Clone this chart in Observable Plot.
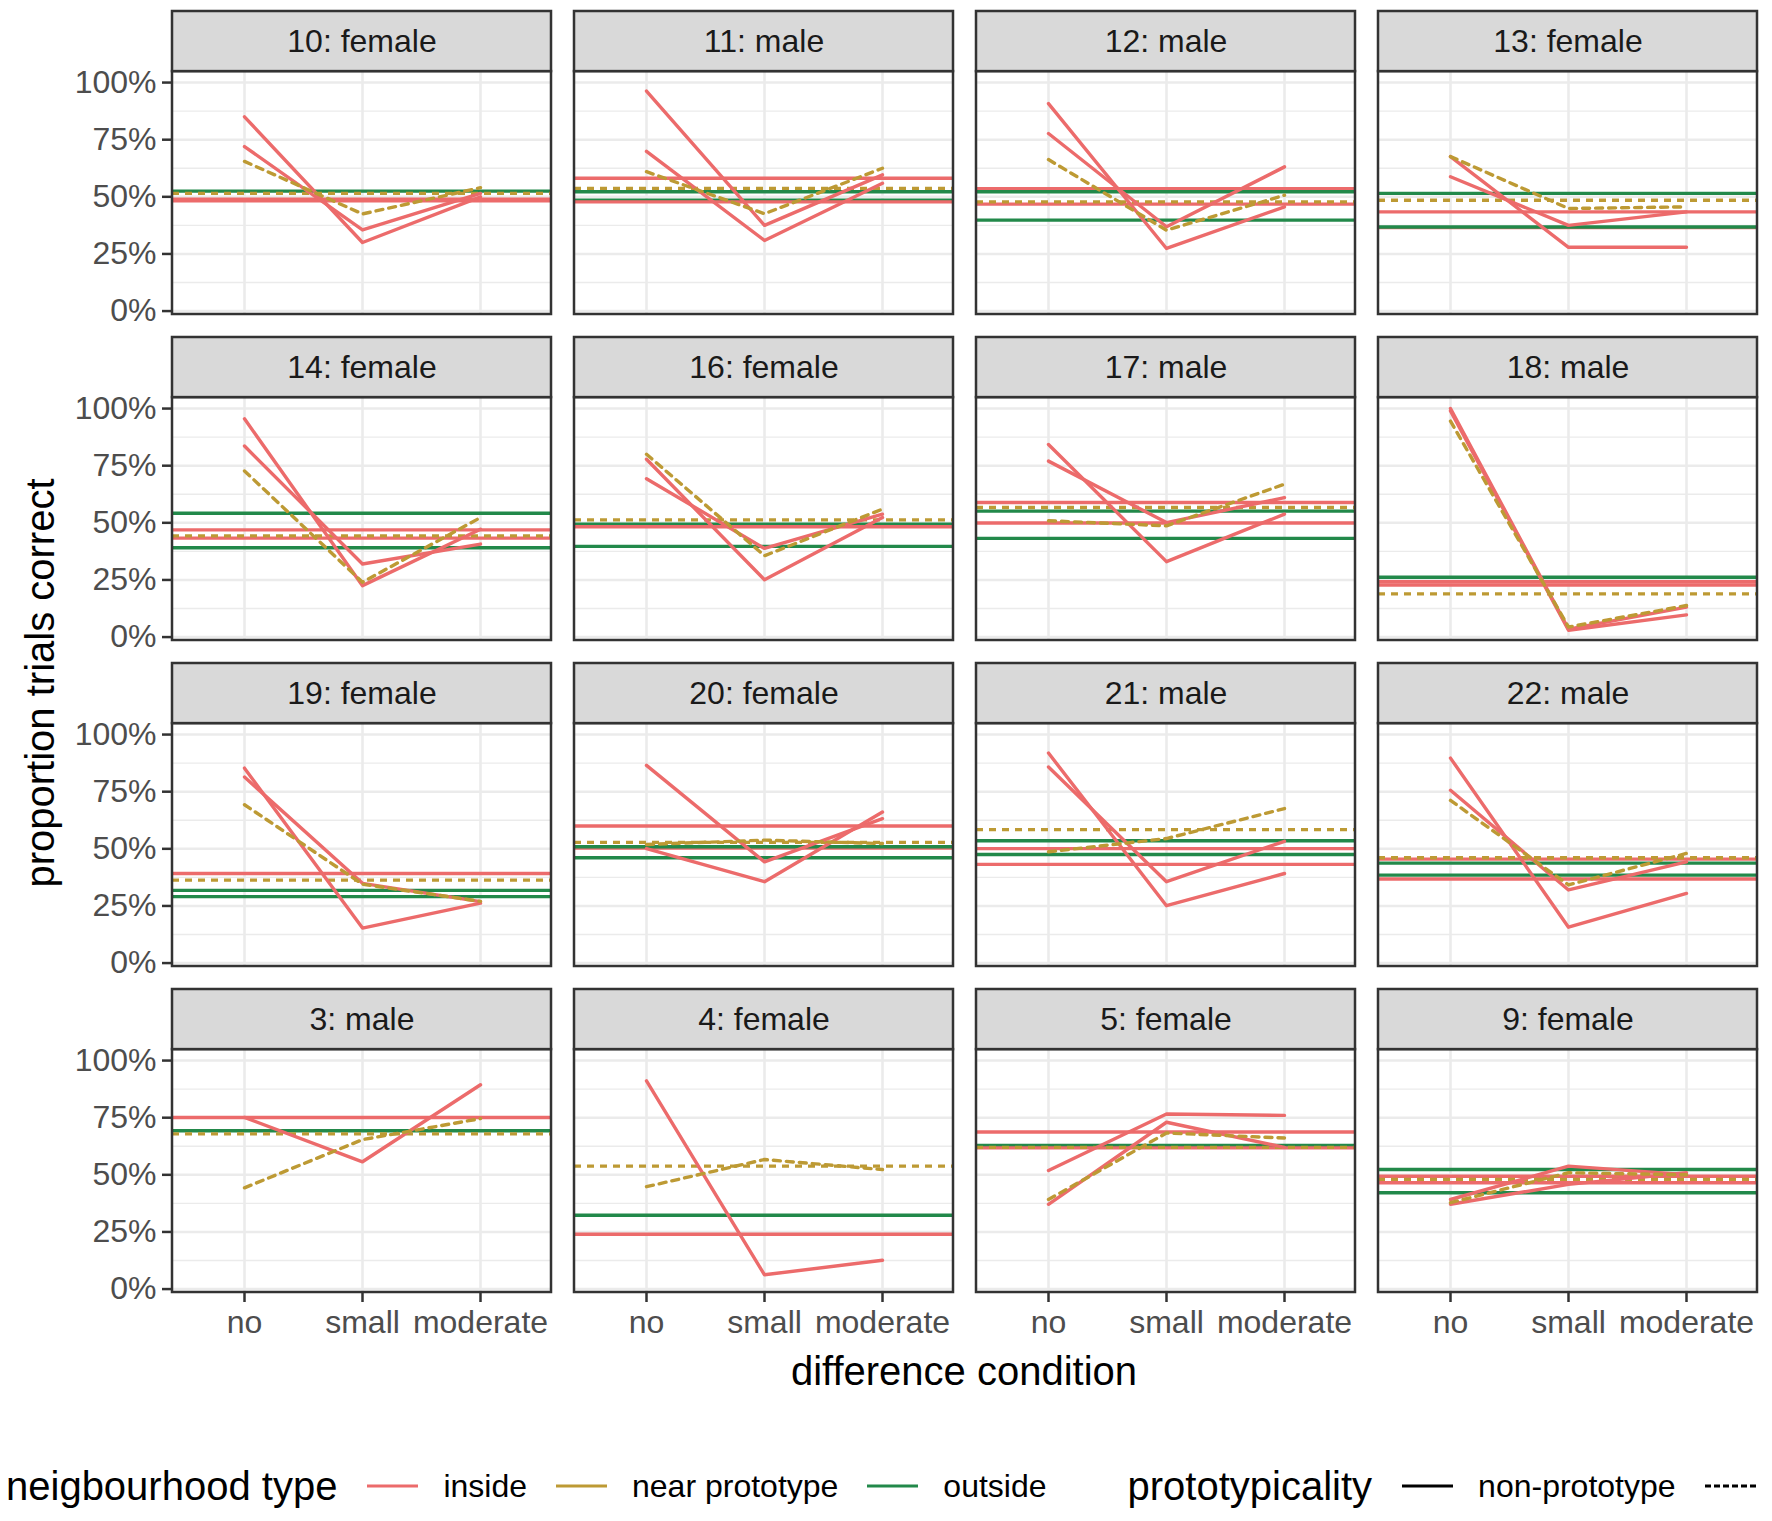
<!DOCTYPE html>
<html>
<head>
<meta charset="utf-8">
<script src="https://cdn.jsdelivr.net/npm/d3@7"></script>
<script src="https://cdn.jsdelivr.net/npm/@observablehq/plot@0.6"></script>
<style>
  html, body { margin: 0; padding: 0; background: #fff; }
  body { font-family: "Liberation Sans", Arial, sans-serif; overflow: hidden; }
  #wrap { position: relative; width: 1772px; height: 1521px; overflow: hidden; background: #fff; }
  #chart { position: absolute; left: 0; top: 0; }
  .atitle { position: absolute; font-size: 40px; color: #000; white-space: nowrap; }
  #ytitle { left: 40px; top: 683px; transform: translate(-50%, -50%) rotate(-90deg); }
  #xtitle { left: 964px; top: 1371px; transform: translate(-50%, -50%); }
  #legend { position: absolute; left: 6px; top: 1486px; transform: translateY(-50%);
            display: flex; align-items: center; white-space: nowrap; }
  .ltitle { font-size: 40px; color: #000; margin-right: 30px; }
  .lkey { width: 51px; height: 0; margin-right: 25px; }
  .llabel { font-size: 32px; color: #000; margin-right: 29px; }
  .lgap { width: 52px; }
</style>
</head>
<body>
<div id="wrap">
  <div id="chart"></div>
  <div id="ytitle" class="atitle">proportion trials correct</div>
  <div id="xtitle" class="atitle">difference condition</div>
  <div id="legend"></div>
</div>
<script>
// ---------- data ----------
const panels = ["10: female", "11: male", "12: male", "13: female",
                "14: female", "16: female", "17: male", "18: male",
                "19: female", "20: female", "21: male", "22: male",
                "3: male", "4: female", "5: female", "9: female"];
const conditions = ["no", "small", "moderate"];
const yTicks = [0, 0.25, 0.5, 0.75, 1];
const yMinorTicks = [0.125, 0.375, 0.625, 0.875];
const typeNames = ["inside", "near prototype", "outside"];
const typeColors = ["#ec6b6b", "#bd9a34", "#22894a"];
const protoNames = ["non-prototype", "prototype"];

// [panel index, type index, prototypicality index, no, small, moderate]
const seriesLines = [
  [0, 0, 0, 0.85, 0.30, 0.50], [0, 0, 0, 0.72, 0.355, 0.515], [0, 1, 1, 0.655, 0.425, 0.54],
  [1, 0, 0, 0.963, 0.375, 0.596], [1, 0, 0, 0.699, 0.309, 0.559], [1, 1, 1, 0.61, 0.426, 0.625],
  [2, 0, 0, 0.908, 0.274, 0.456], [2, 0, 0, 0.777, 0.369, 0.631], [2, 1, 1, 0.663, 0.354, 0.507],
  [3, 0, 0, 0.676, 0.279, 0.279], [3, 0, 0, 0.588, 0.375, 0.434], [3, 1, 1, 0.676, 0.449, 0.456],
  [4, 0, 0, 0.955, 0.225, 0.472], [4, 0, 0, 0.836, 0.32, 0.407], [4, 1, 1, 0.727, 0.24, 0.523],
  [5, 0, 0, 0.778, 0.251, 0.523], [5, 0, 0, 0.693, 0.388, 0.538], [5, 1, 1, 0.80, 0.356, 0.56],
  [6, 0, 0, 0.843, 0.33, 0.538], [6, 0, 0, 0.77, 0.501, 0.61], [6, 1, 1, 0.509, 0.487, 0.669],
  [7, 0, 0, 1.0, 0.035, 0.131], [7, 0, 0, 0.99, 0.03, 0.097], [7, 1, 1, 0.945, 0.044, 0.138],
  [8, 0, 0, 0.853, 0.153, 0.262], [8, 0, 0, 0.814, 0.349, 0.269], [8, 1, 1, 0.693, 0.345, 0.27],
  [9, 0, 0, 0.865, 0.443, 0.632], [9, 0, 0, 0.501, 0.356, 0.661], [9, 1, 1, 0.519, 0.538, 0.523],
  [10, 0, 0, 0.919, 0.251, 0.392], [10, 0, 0, 0.858, 0.356, 0.533], [10, 1, 1, 0.487, 0.545, 0.676],
  [11, 0, 0, 0.897, 0.157, 0.305], [11, 0, 0, 0.756, 0.32, 0.443], [11, 1, 1, 0.712, 0.342, 0.48],
  [12, 0, 0, 0.751, 0.557, 0.894], [12, 1, 1, 0.443, 0.654, 0.746],
  [13, 0, 0, 0.911, 0.0625, 0.126], [13, 1, 1, 0.448, 0.567, 0.523],
  [14, 0, 0, 0.519, 0.766, 0.76], [14, 0, 0, 0.371, 0.73, 0.62], [14, 1, 1, 0.392, 0.683, 0.661],
  [15, 0, 0, 0.392, 0.538, 0.501], [15, 0, 0, 0.371, 0.458, 0.509], [15, 1, 1, 0.378, 0.509, 0.5]
];

// [panel index, type index, prototypicality index, level]
const levelLines = [
  [0, 2, 0, 0.525], [0, 1, 1, 0.515], [0, 0, 0, 0.49], [0, 0, 0, 0.483],
  [1, 0, 0, 0.581], [1, 1, 1, 0.537], [1, 2, 0, 0.522], [1, 2, 0, 0.485], [1, 0, 0, 0.478],
  [2, 0, 0, 0.536], [2, 2, 0, 0.522], [2, 1, 1, 0.478], [2, 0, 0, 0.468], [2, 2, 0, 0.398],
  [3, 2, 0, 0.515], [3, 1, 1, 0.485], [3, 0, 0, 0.434], [3, 0, 0, 0.365], [3, 2, 0, 0.368],
  [4, 2, 0, 0.542], [4, 0, 0, 0.469], [4, 1, 1, 0.443], [4, 0, 0, 0.433], [4, 2, 0, 0.391],
  [5, 1, 1, 0.513], [5, 2, 0, 0.494], [5, 0, 0, 0.483], [5, 2, 0, 0.397],
  [6, 0, 0, 0.589], [6, 1, 1, 0.567], [6, 2, 0, 0.551], [6, 0, 0, 0.499], [6, 2, 0, 0.432],
  [7, 2, 0, 0.262], [7, 0, 0, 0.242], [7, 0, 0, 0.228], [7, 1, 1, 0.189],
  [8, 0, 0, 0.392], [8, 1, 1, 0.363], [8, 2, 0, 0.318], [8, 2, 0, 0.291],
  [9, 0, 0, 0.60], [9, 1, 1, 0.528], [9, 0, 0, 0.503], [9, 2, 0, 0.509], [9, 2, 0, 0.461],
  [10, 1, 1, 0.584], [10, 2, 0, 0.535], [10, 0, 0, 0.501], [10, 2, 0, 0.475], [10, 0, 0, 0.432],
  [11, 1, 1, 0.461], [11, 0, 0, 0.455], [11, 2, 0, 0.4375], [11, 2, 0, 0.385], [11, 0, 0, 0.368],
  [12, 0, 0, 0.751], [12, 2, 0, 0.693], [12, 1, 1, 0.679],
  [13, 1, 1, 0.538], [13, 2, 0, 0.323], [13, 0, 0, 0.24],
  [14, 0, 0, 0.6875], [14, 2, 0, 0.628], [14, 0, 0, 0.618], [14, 1, 1, 0.62],
  [15, 2, 0, 0.523], [15, 0, 0, 0.494], [15, 1, 1, 0.48], [15, 0, 0, 0.465], [15, 2, 0, 0.4215]
];

// ---------- derived tables ----------
const yLo = -0.015, panelTop = 1.048, stripTop = 1.311;
const facetOf = i => ({col: i % 4, row: Math.floor(i / 4)});
const panelRows = panels.map((name, i) => ({name, ...facetOf(i)}));
const lineData = seriesLines.flatMap(([p, t, pr, ...vals], k) =>
  vals.map((v, j) => ({...facetOf(p), id: k, type: typeNames[t], proto: protoNames[pr], cond: conditions[j], value: v})));
const levelData = levelLines.map(([p, t, pr, v]) => ({...facetOf(p), type: typeNames[t], proto: protoNames[pr], value: v}));
const majorGrid = panelRows.flatMap(d => yTicks.map(v => ({...d, value: v})));
const minorGrid = panelRows.flatMap(d => yMinorTicks.map(v => ({...d, value: v})));
const vGrid = panelRows.flatMap(d => conditions.map(c => ({...d, cond: c})));

const F = {fx: "col", fy: "row"};
const LW = 3.4, DASH = "7,6";

const chart = Plot.plot({
  width: 1772,
  height: 1400,
  marginLeft: 172, marginRight: 15, marginTop: 11, marginBottom: 108,
  style: {fontFamily: '"Liberation Sans", Arial, sans-serif', background: "white", overflow: "visible"},
  x: {type: "point", domain: conditions, padding: 0.6},
  y: {domain: [yLo, stripTop]},
  fx: {domain: [0, 1, 2, 3], paddingInner: 23 / 402, paddingOuter: 0, axis: null},
  fy: {domain: [0, 1, 2, 3], paddingInner: 23 / 326, paddingOuter: 0, axis: null},
  color: {domain: typeNames, range: typeColors},
  marks: [
    Plot.rect(panelRows, {...F, y1: yLo, y2: panelTop, fill: "white"}),
    Plot.ruleY(minorGrid, {...F, y: "value", stroke: "#ebebeb", strokeWidth: 1.4}),
    Plot.ruleY(majorGrid, {...F, y: "value", stroke: "#ebebeb", strokeWidth: 2.6}),
    Plot.ruleX(vGrid, {...F, x: "cond", y1: yLo, y2: panelTop, stroke: "#ebebeb", strokeWidth: 2.6}),
    Plot.ruleY(levelData.filter(d => d.proto === "non-prototype"), {...F, y: "value", stroke: "type", strokeWidth: LW}),
    Plot.ruleY(levelData.filter(d => d.proto === "prototype"), {...F, y: "value", stroke: "type", strokeWidth: LW, strokeDasharray: DASH}),
    Plot.line(lineData.filter(d => d.proto === "non-prototype"), {...F, x: "cond", y: "value", z: "id", stroke: "type", strokeWidth: LW}),
    Plot.line(lineData.filter(d => d.proto === "prototype"), {...F, x: "cond", y: "value", z: "id", stroke: "type", strokeWidth: LW, strokeDasharray: DASH}),
    Plot.rect(panelRows, {...F, y1: yLo, y2: panelTop, fill: "none", stroke: "#333333", strokeWidth: 2.5}),
    Plot.rect(panelRows, {...F, y1: panelTop, y2: stripTop, fill: "#d9d9d9", stroke: "#333333", strokeWidth: 2.5}),
    Plot.text(panelRows, {...F, y: (panelTop + stripTop) / 2, text: "name", fontSize: 32, fill: "#1a1a1a", frameAnchor: "middle"}),
    Plot.axisY({ticks: yTicks, tickFormat: d3.format(".0%"), tickSize: 10, tickPadding: 6, fontSize: 32,
                fill: "#4d4d4d", stroke: "#333333", strokeWidth: 2.5, label: null}),
    Plot.axisX({tickSize: 10, tickPadding: 8, fontSize: 32, fill: "#4d4d4d", stroke: "#333333", strokeWidth: 2.5, label: null})
  ]
});
document.getElementById("chart").appendChild(chart);

// ---------- legend (as in the reference, it runs off the right edge after the dashed key) ----------
const legend = document.getElementById("legend");
function add(cls, text, style) {
  const el = document.createElement("div");
  el.className = cls;
  if (text) el.textContent = text;
  if (style) Object.assign(el.style, style);
  legend.appendChild(el);
}
add("ltitle", "neigbourhood type");
typeNames.forEach((t, i) => {
  add("lkey", null, {borderTop: `${LW}px solid ${typeColors[i]}`});
  add("llabel", t);
});
add("lgap");
add("ltitle", "prototypicality");
add("lkey", null, {borderTop: `${LW}px solid #000`});
add("llabel", protoNames[0]);
add("lkey", null, {borderTop: `${LW}px dashed #000`, marginRight: "0px"});
</script>
</body>
</html>
